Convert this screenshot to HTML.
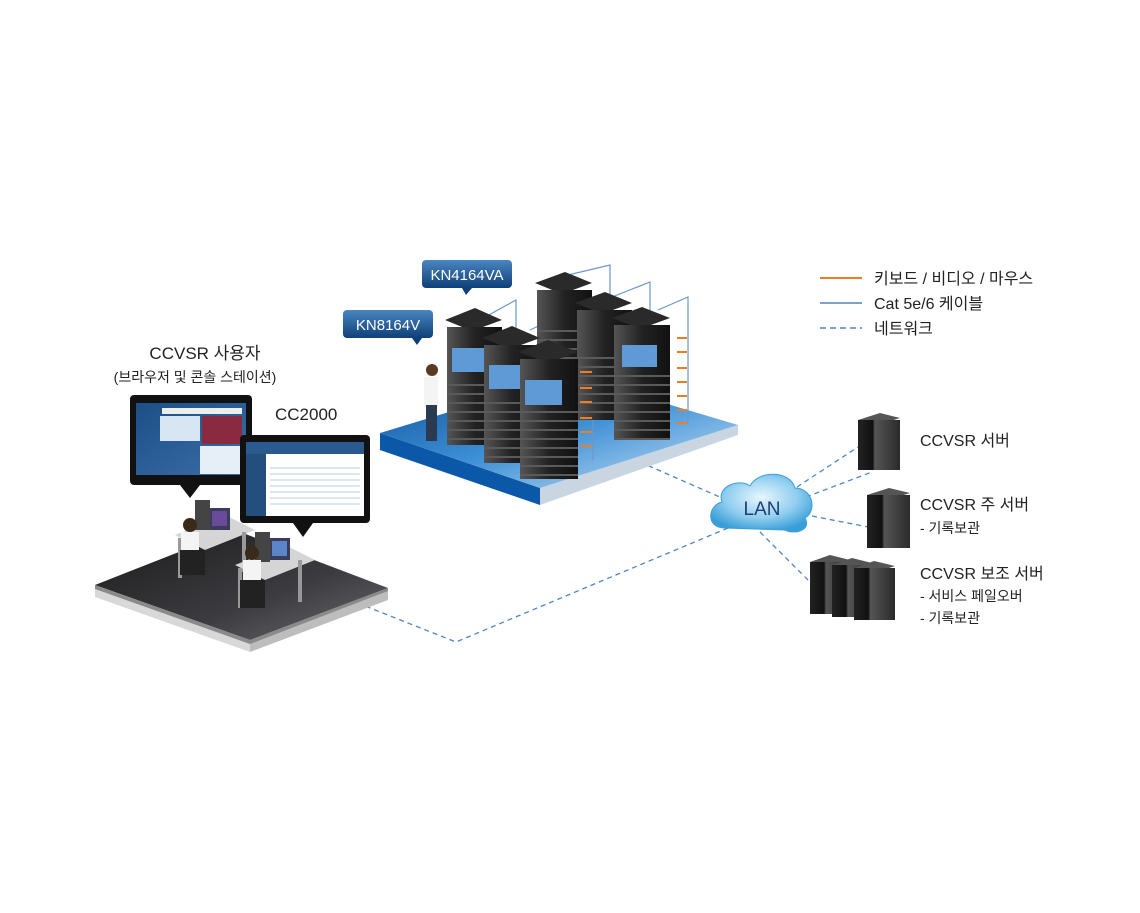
<!DOCTYPE html>
<html><head><meta charset="utf-8"><style>
body{margin:0;background:#fff;width:1140px;height:913px;overflow:hidden}
svg{display:block}
text{font-family:"Liberation Sans","Noto Sans CJK KR",sans-serif}
</style></head><body>
<svg width="1140" height="913" viewBox="0 0 1140 913">
<defs>
<linearGradient id="lbl" x1="0" y1="0" x2="0" y2="1"><stop offset="0" stop-color="#4a86c0"/><stop offset="1" stop-color="#0f3f78"/></linearGradient>
<linearGradient id="bp" x1="0" y1="0" x2="1" y2="1"><stop offset="0" stop-color="#0d4f9a"/><stop offset="0.5" stop-color="#3d8fd6"/><stop offset="1" stop-color="#cfe6f7"/></linearGradient>
<linearGradient id="dp" x1="0" y1="0" x2="1" y2="1"><stop offset="0" stop-color="#1a1a1c"/><stop offset="0.6" stop-color="#3c3c40"/><stop offset="1" stop-color="#6a6a6e"/></linearGradient>
<linearGradient id="rk" x1="0" y1="0" x2="1" y2="0"><stop offset="0" stop-color="#555"/><stop offset="0.5" stop-color="#222"/><stop offset="1" stop-color="#111"/></linearGradient>
<linearGradient id="sv" x1="0" y1="0" x2="1" y2="0"><stop offset="0" stop-color="#222"/><stop offset="0.35" stop-color="#111"/><stop offset="0.4" stop-color="#555"/><stop offset="1" stop-color="#2a2a2a"/></linearGradient>
<radialGradient id="cl" cx="0.5" cy="0.4" r="0.6"><stop offset="0" stop-color="#e8f6fd"/><stop offset="0.6" stop-color="#8fcdef"/><stop offset="1" stop-color="#3a9fd8"/></radialGradient>
<linearGradient id="scr" x1="0" y1="0" x2="1" y2="1"><stop offset="0" stop-color="#1d4f86"/><stop offset="1" stop-color="#3a6ea8"/></linearGradient>
<pattern id="stripe" width="10" height="9" patternUnits="userSpaceOnUse"><rect width="10" height="9" fill="none"/><rect y="6" width="10" height="2" fill="#5a5a5a"/></pattern>
</defs>

<g stroke="#4f86bd" stroke-width="1.3" stroke-dasharray="5,4" fill="none">
<path d="M640 462 L722 498"/>
<path d="M728 528 L456 642 L360 604"/>
<path d="M797 487 L858 447"/>
<path d="M806 497 L872 472"/>
<path d="M812 516 L868 527"/>
<path d="M760 532 L810 582"/>
</g>

<polygon points="95,585 250,640 250,652 95,597" fill="#d8d8d8"/>
<polygon points="250,640 388,588 388,600 250,652" fill="#bdbdbd"/>
<polygon points="95,585 235,530 388,588 250,640" fill="url(#dp)"/>
<polygon points="95,585 250,640 388,588 388,591 250,644 95,589" fill="#8a8a8a"/>

<g>
<polygon points="175,535 225,515 255,530 205,550" fill="#d5d5d5"/>
<rect x="178" y="538" width="4" height="40" fill="#999"/><rect x="242" y="532" width="4" height="40" fill="#999"/>
<rect x="208" y="508" width="22" height="22" fill="#3b3b5a"/><rect x="212" y="511" width="15" height="15" fill="#6a4a9a"/>
<rect x="195" y="500" width="15" height="30" fill="#444"/>
<circle cx="190" cy="525" r="7" fill="#3a2a1a"/><rect x="181" y="532" width="18" height="22" fill="#f4f4f4"/>
<rect x="180" y="550" width="25" height="25" fill="#222"/>
<polygon points="235,565 285,545 315,560 265,580" fill="#d5d5d5"/>
<rect x="238" y="568" width="4" height="40" fill="#999"/><rect x="298" y="560" width="4" height="42" fill="#999"/>
<rect x="268" y="538" width="22" height="22" fill="#3b3b5a"/><rect x="272" y="541" width="15" height="15" fill="#5a86c8"/>
<rect x="255" y="532" width="15" height="30" fill="#444"/>
<circle cx="252" cy="553" r="7" fill="#3a2a1a"/><rect x="243" y="560" width="18" height="22" fill="#f4f4f4"/>
<rect x="240" y="580" width="25" height="28" fill="#222"/>
</g>

<rect x="130" y="395" width="122" height="90" rx="4" fill="#111"/>
<rect x="136" y="403" width="110" height="72" fill="url(#scr)"/>
<rect x="162" y="408" width="80" height="6" fill="#eee"/>
<rect x="160" y="416" width="40" height="25" fill="#d8e6f4"/>
<rect x="202" y="416" width="40" height="28" fill="#8a2a40"/>
<rect x="200" y="446" width="42" height="28" fill="#e6eef8"/>
<polygon points="180,485 200,485 190,498" fill="#111"/>
<rect x="240" y="435" width="130" height="88" rx="4" fill="#111"/>
<rect x="246" y="442" width="118" height="74" fill="#fff"/>
<rect x="246" y="442" width="118" height="12" fill="#2a5a8e"/>
<rect x="246" y="454" width="20" height="62" fill="#244e7e"/>
<g stroke="#b8c8da" stroke-width="1"><path d="M270 468H360M270 474H360M270 480H360M270 486H360M270 492H360M270 498H360M270 504H360"/></g>
<polygon points="293,523 313,523 303,537" fill="#111"/>

<polygon points="380,433 540,488 540,505 380,450" fill="#0b57a8"/>
<polygon points="540,488 738,425 738,435 540,505" fill="#c9d6e2"/>
<polygon points="380,433 570,375 738,425 540,488" fill="url(#bp)"/>

<g stroke="#6d97c6" stroke-width="1.2" fill="none">
<path d="M487 316 L516 300 L516 352"/><path d="M530 330 L558 317 L558 370"/>
<path d="M568 275 L610 265 L610 330"/><path d="M612 297 L650 282 L650 345"/>
<path d="M658 310 L688 297 L688 425"/><path d="M580 345 L593 340 L593 460"/>
</g>

<g>
<polygon points="535,283 565,272 592,283 562,294" fill="#2a2a2a"/><rect x="537" y="290" width="55" height="105" fill="url(#rk)"/><rect x="537" y="330" width="55" height="65" fill="url(#stripe)"/>
<polygon points="575,303 605,292 632,303 602,314" fill="#2a2a2a"/><rect x="577" y="310" width="55" height="110" fill="url(#rk)"/><rect x="577" y="350" width="55" height="70" fill="url(#stripe)"/>
<polygon points="612,318 642,307 670,318 640,329" fill="#2a2a2a"/><rect x="614" y="325" width="56" height="115" fill="url(#rk)"/><rect x="614" y="372" width="56" height="68" fill="url(#stripe)"/>
<rect x="622" y="345" width="35" height="22" fill="#5f9ad6"/>
<polygon points="445,320 475,308 502,320 472,331" fill="#2a2a2a"/><rect x="447" y="327" width="55" height="118" fill="url(#rk)"/><rect x="447" y="380" width="55" height="65" fill="url(#stripe)"/>
<rect x="452" y="348" width="35" height="24" fill="#5f9ad6"/>
<polygon points="482,338 512,326 540,338 510,349" fill="#2a2a2a"/><rect x="484" y="345" width="56" height="118" fill="url(#rk)"/><rect x="484" y="395" width="56" height="68" fill="url(#stripe)"/>
<rect x="489" y="365" width="35" height="24" fill="#5f9ad6"/>
<polygon points="518,352 548,340 578,352 548,363" fill="#2a2a2a"/><rect x="520" y="359" width="58" height="120" fill="url(#rk)"/><rect x="520" y="410" width="58" height="69" fill="url(#stripe)"/>
<rect x="525" y="380" width="37" height="25" fill="#5f9ad6"/>
</g>
<g stroke="#f07d22" stroke-width="2"><path d="M677 338h10M677 352h10M677 368h10M677 382h10M677 396h10M677 410h10M677 423h10M580 372h12M580 388h12M580 402h12M580 418h12M580 432h12M580 446h12"/></g>

<circle cx="432" cy="370" r="6" fill="#5a3a20"/>
<rect x="424" y="377" width="14" height="30" fill="#f4f4f4"/>
<rect x="426" y="405" width="11" height="36" fill="#2a3a50"/>

<rect x="422" y="260" width="90" height="28" rx="4" fill="url(#lbl)"/>
<polygon points="462,288 472,288 466,295" fill="#0f3f78"/>
<text x="467" y="280" font-size="15" fill="#fff" text-anchor="middle">KN4164VA</text>
<rect x="343" y="310" width="90" height="28" rx="4" fill="url(#lbl)"/>
<polygon points="412,338 422,338 417,345" fill="#0f3f78"/>
<text x="388" y="330" font-size="15" fill="#fff" text-anchor="middle">KN8164V</text>

<path d="M725 528 C705 528 708 505 722 502 C716 486 740 478 750 486 C758 470 790 470 795 488 C812 488 818 510 805 518 C812 530 795 535 785 530 Z" fill="url(#cl)" stroke="#3a9fd8"/>
<text x="762" y="515" font-size="19" fill="#1f3f70" text-anchor="middle">LAN</text>

<g>
<polygon points="858,420 880,413 900,418 878,425" fill="#555"/><rect x="858" y="420" width="42" height="50" fill="url(#sv)"/>
<polygon points="867,495 889,488 910,493 888,500" fill="#555"/><rect x="867" y="495" width="43" height="53" fill="url(#sv)"/>
<polygon points="810,562 830,555 850,560 830,567" fill="#555"/><rect x="810" y="562" width="40" height="52" fill="url(#sv)"/>
<polygon points="832,565 852,558 872,563 852,570" fill="#555"/><rect x="832" y="565" width="40" height="52" fill="url(#sv)"/>
<polygon points="854,568 874,561 895,566 874,573" fill="#555"/><rect x="854" y="568" width="41" height="52" fill="url(#sv)"/>
</g>

<g fill="#222">
<text x="205" y="359" font-size="17" text-anchor="middle">CCVSR 사용자</text>
<text x="195" y="382" font-size="14" text-anchor="middle">(브라우저 및 콘솔 스테이션)</text>
<text x="275" y="420" font-size="17">CC2000</text>
<text x="920" y="446" font-size="16">CCVSR 서버</text>
<text x="920" y="510" font-size="16">CCVSR 주 서버</text>
<text x="920" y="533" font-size="14">- 기록보관</text>
<text x="920" y="579" font-size="16">CCVSR 보조 서버</text>
<text x="920" y="601" font-size="14">- 서비스 페일오버</text>
<text x="920" y="623" font-size="14">- 기록보관</text>
<text x="874" y="284" font-size="16">키보드 / 비디오 / 마우스</text>
<text x="874" y="309" font-size="16">Cat 5e/6 케이블</text>
<text x="874" y="334" font-size="16">네트워크</text>
</g>
<path d="M820 278H862" stroke="#f07d22" stroke-width="2"/>
<path d="M820 303H862" stroke="#4f86bd" stroke-width="1.5"/>
<path d="M820 328H862" stroke="#4f86bd" stroke-width="1.5" stroke-dasharray="6,4"/>
</svg>
</body></html>
